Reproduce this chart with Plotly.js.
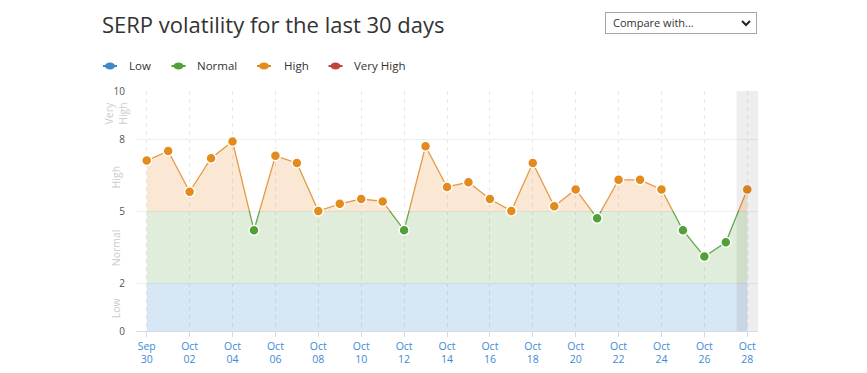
<!DOCTYPE html>
<html>
<head>
<meta charset="utf-8">
<script src="https://cdn.plot.ly/plotly-3.0.1.min.js"></script>
<style>
  html, body { margin: 0; padding: 0; background: #fff; }
  #wrap { position: relative; width: 867px; height: 373px; }
  #chart { position: absolute; left: 0; top: 0; width: 867px; height: 373px; }
  #cmp { position: absolute; left: 605px; top: 12px; width: 150px; height: 20px;
         border: 1px solid #a6a6a6; background: #fff; font-family: "Open Sans", sans-serif;
         font-size: 11px; color: #333; line-height: 20px; box-sizing: content-box; }
  #cmp span { position: absolute; left: 7px; top: 0; }
  #cmp svg { position: absolute; right: 5px; top: 7px; }
</style>
</head>
<body>
<div id="wrap">
  <div id="chart"></div>
  <div id="cmp"><span>Compare with...</span>
    <svg width="10" height="7" viewBox="0 0 10 7"><polyline points="1,1 5,5 9,1" fill="none" stroke="#222" stroke-width="2"/></svg>
  </div>
</div>
<script>
// ---- data ----
const dates = ["2023-09-30","2023-10-01","2023-10-02","2023-10-03","2023-10-04","2023-10-05","2023-10-06",
  "2023-10-07","2023-10-08","2023-10-09","2023-10-10","2023-10-11","2023-10-12","2023-10-13","2023-10-14",
  "2023-10-15","2023-10-16","2023-10-17","2023-10-18","2023-10-19","2023-10-20","2023-10-21","2023-10-22",
  "2023-10-23","2023-10-24","2023-10-25","2023-10-26","2023-10-27","2023-10-28"];
const volatility = [7.1, 7.5, 5.8, 7.2, 7.9, 4.2, 7.3, 7.0, 5.0, 5.3, 5.5, 5.4, 4.2, 7.7, 6.0,
  6.2, 5.5, 5.0, 7.0, 5.2, 5.9, 4.7, 6.3, 6.3, 5.9, 4.2, 3.1, 3.7, 5.9];
const bandNames = ["Low", "Normal", "High", "Very High"];
const bandEdges = [0, 2, 5, 8, 10];
const bandColors = ["#3d87cb", "#53a03a", "#e38b1d", "#c0443a"];
const bandLineColors = ["#5a9ad4", "#64a84e", "#e39a45", "#c65a50"];
const bandFills = ["rgba(61,135,203,0.2)", "rgba(95,165,70,0.2)", "rgba(236,150,60,0.22)", "rgba(192,68,58,0.2)"];
const yTicks = [0, 2, 5, 8, 10];
const bandLabels = ["Low", "Normal", "High", "Very<br>High"];
const bandLabelPos = [0.95, 3.45, 6.4, 9.05];
const todayRange = ["2023-10-27 12:00", "2023-10-28 12:00"];
const xRange = ["2023-09-29 12:00", "2023-10-28 12:00"];

// ---- layout geometry ----
const W = 867, H = 373;
const M = { l: 136, r: 109, t: 91, b: 42 };
const PW = W - M.l - M.r, PH = H - M.t - M.b;
const px2x = p => (p - M.l) / PW;
const py2y = p => (M.t + PH - p) / PH;

function bandIndex(v) {
  for (let i = bandEdges.length - 2; i >= 0; i--) if (v >= bandEdges[i]) return i;
  return 0;
}

const traces = [];
const layout = {
  width: W, height: H,
  margin: M,
  paper_bgcolor: "#fff",
  plot_bgcolor: "rgba(0,0,0,0)",
  showlegend: false,
  font: { family: "Open Sans, sans-serif", color: "#333" },
  title: {
    text: "SERP volatility for the last 30 days",
    font: { size: 22, color: "#333", family: "Open Sans, sans-serif" },
    x: 102 / W, xanchor: "left", xref: "container",
    y: 1 - 25 / H, yanchor: "middle", yref: "container"
  },
  xaxis: {
    type: "date", range: xRange, domain: [0, 1], anchor: "y",
    tick0: dates[0], dtick: 2 * 86400000, tickformat: "%b<br>%d",
    tickfont: { size: 10.5, color: "#3d8ad6" },
    showgrid: true, gridcolor: "#e8e8e8", griddash: "4px,4px", gridwidth: 1,
    showline: true, linecolor: "#d3dce6", linewidth: 1,
    ticks: "outside", ticklen: 5, tickcolor: "#d3dce6",
    zeroline: false, fixedrange: true
  },
  xaxis2: {
    type: "date", range: xRange, domain: [0, 1], anchor: "y2", matches: "x",
    visible: false, showgrid: false, fixedrange: true
  },
  yaxis: {
    range: [0, 10], domain: [0, 1], anchor: "x",
    tickvals: yTicks, ticktext: yTicks.map(String),
    tickfont: { size: 10, color: "#555" },
    showgrid: true, gridcolor: "#efefef", gridwidth: 1,
    zeroline: false, showline: false, ticks: "", ticklabelstandoff: 10, fixedrange: true
  },
  shapes: [],
  annotations: []
};

// band subplots: each one clips the same series to its own band
for (let i = 0; i < bandNames.length; i++) {
  const ax = "yaxis" + (i + 2);
  layout[ax] = {
    range: [bandEdges[i], bandEdges[i + 1]],
    domain: [bandEdges[i] / 10, bandEdges[i + 1] / 10],
    anchor: "x2", visible: false, showgrid: false, zeroline: false, fixedrange: true
  };
  traces.push({
    type: "scatter", mode: "lines", x: dates, y: volatility,
    xaxis: "x2", yaxis: "y" + (i + 2),
    line: { color: bandLineColors[i], width: 1.3 },
    fill: "tozeroy", fillcolor: bandFills[i],
    hoverinfo: "skip", name: bandNames[i]
  });
}

// markers on top
layout.yaxis6 = { range: [0, 10], domain: [0, 1], anchor: "x2", visible: false, showgrid: false, zeroline: false, fixedrange: true };
traces.push({
  type: "scatter", mode: "markers", x: dates, y: volatility,
  xaxis: "x2", yaxis: "y6", cliponaxis: false,
  marker: { size: 10, color: volatility.map(v => bandColors[bandIndex(v)]), line: { color: "#fff", width: 1.5 } },
  name: "SERP volatility"
});

// today shading
layout.shapes.push({
  type: "rect", xref: "x", yref: "paper", x0: todayRange[0], x1: todayRange[1], y0: 0, y1: 1,
  fillcolor: "rgba(0,0,0,0.065)", line: { width: 0 }, layer: "above"
});

// band labels
for (let i = 0; i < bandLabels.length; i++) {
  layout.annotations.push({
    xref: "paper", yref: "y", x: px2x(116), y: bandLabelPos[i], text: bandLabels[i],
    textangle: -90, showarrow: false, xanchor: "center", yanchor: "middle",
    font: { size: 10.5, color: "#cccccc" }
  });
}

// legend (manual, above plot)
const legendSymX = [110, 178.5, 264, 335.5];
const legendTextX = [127, 195, 281.5, 352];
const legY = 66;
for (let i = 0; i < bandNames.length; i++) {
  layout.shapes.push({
    type: "line", xref: "paper", yref: "paper",
    x0: px2x(legendSymX[i] - 7), x1: px2x(legendSymX[i] + 7), y0: py2y(legY), y1: py2y(legY),
    line: { color: bandColors[i], width: 2 }
  });
  layout.shapes.push({
    type: "circle", xref: "paper", yref: "paper",
    x0: px2x(legendSymX[i] - 5), x1: px2x(legendSymX[i] + 5), y0: py2y(legY + 3.5), y1: py2y(legY - 3.5),
    fillcolor: bandColors[i], line: { width: 0 }
  });
  layout.annotations.push({
    xref: "paper", yref: "paper", x: px2x(legendTextX[i]), y: py2y(legY),
    text: bandNames[i], showarrow: false, xanchor: "left", yanchor: "middle",
    font: { size: 11.5, color: "#333" }
  });
}

Plotly.newPlot("chart", traces, layout, { displayModeBar: false, staticPlot: true });
</script>
</body>
</html>
